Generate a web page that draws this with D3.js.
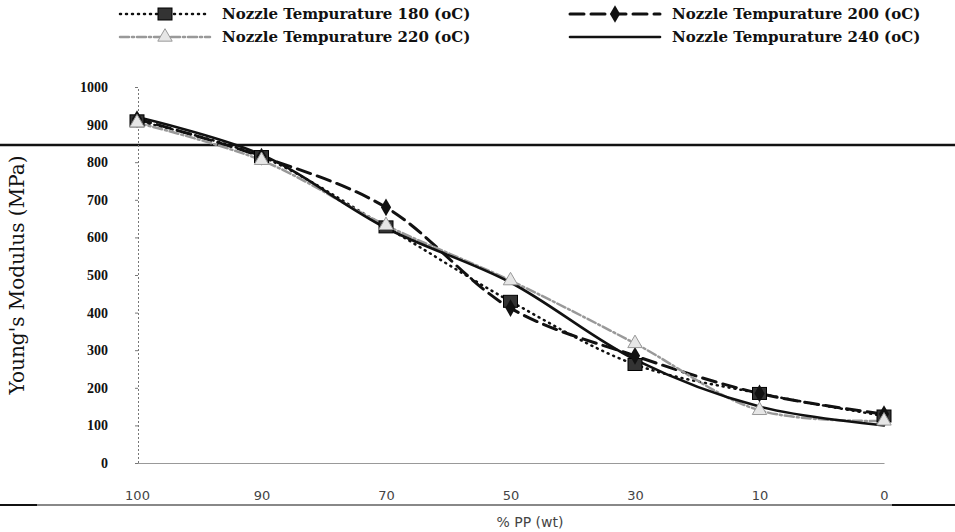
<!DOCTYPE html>
<html>
<head>
<meta charset="utf-8">
<script src="https://cdn.jsdelivr.net/npm/d3@7"></script>
<style>
  body { margin: 0; background: #fff; }
</style>
</head>
<body>
<div id="my_dataviz"></div>
<script>
var categories = ["100", "90", "70", "50", "30", "10", "0"];
var yTicks = [0, 100, 200, 300, 400, 500, 600, 700, 800, 900, 1000];

var seriesNames = ["Nozzle Tempurature 180 (oC)", "Nozzle Tempurature 200 (oC)",
                   "Nozzle Tempurature 220 (oC)", "Nozzle Tempurature 240 (oC)"];
var t180 = [910, 815, 628, 430, 262, 185, 125];
var t200 = [915, 815, 680, 412, 285, 185, 130];
var t220 = [905, 805, 632, 485, 318, 140, 112];
var t240 = [920, 820, 625, 480, 275, 150, 100];

var W = 955, H = 532;
var margin = {top: 87, right: 72, bottom: 69, left: 137},
    width = W - margin.left - margin.right,
    height = H - margin.top - margin.bottom;

var svg = d3.select("#my_dataviz")
  .append("svg")
    .attr("width", W)
    .attr("height", H);

// scan artifacts: page rules
svg.append("line")
  .attr("x1", 0).attr("x2", W).attr("y1", 145).attr("y2", 145)
  .style("stroke", "#111").style("stroke-width", 2.5);
svg.append("line")
  .attr("x1", 0).attr("x2", W).attr("y1", 505).attr("y2", 505)
  .style("stroke", "#888").style("stroke-width", 2);
svg.append("line")
  .attr("x1", 0).attr("x2", 37).attr("y1", 505).attr("y2", 505)
  .style("stroke", "#111").style("stroke-width", 2);
svg.append("line")
  .attr("x1", 892).attr("x2", W).attr("y1", 505).attr("y2", 505)
  .style("stroke", "#111").style("stroke-width", 2);

var g = svg.append("g")
  .attr("transform", "translate(" + margin.left + "," + margin.top + ")");

var x = d3.scalePoint()
  .domain(categories)
  .range([0, width + 1]);

var y = d3.scaleLinear()
  .domain([0, 1000])
  .range([height, 0]);

// x axis
var xAxis = g.append("g")
  .attr("transform", "translate(0," + height + ")")
  .call(d3.axisBottom(x).tickSize(0).tickPadding(28));
xAxis.select(".domain").style("stroke", "#999").style("stroke-width", 1.2);
xAxis.selectAll("text")
  .style("font-family", "DejaVu Sans")
  .style("font-size", "13px")
  .style("fill", "#444");

// y axis
var yAxis = g.append("g")
  .attr("transform", "translate(1,0)")
  .call(d3.axisLeft(y).tickValues(yTicks).tickFormat(d3.format("d")).tickSize(3).tickPadding(27));
yAxis.select(".domain").style("stroke", "#777").style("stroke-dasharray", "2,2");
yAxis.selectAll(".tick line").style("stroke", "#777");
yAxis.selectAll("text")
  .style("font-family", "Liberation Serif")
  .style("font-weight", "bold")
  .style("font-size", "14px")
  .style("fill", "#111");

var styles = [
  {data: t180, color: "#111", width: 2.5, dash: "1,5", marker: "square"},
  {data: t200, color: "#111", width: 3, dash: "14,7", marker: "diamond"},
  {data: t220, color: "#999", width: 2.5, dash: "9,3,2,3", marker: "triangle"},
  {data: t240, color: "#111", width: 2.6, dash: null, marker: null}
];

var line = d3.line()
  .x(function(d, i) { return x(categories[i]); })
  .y(function(d) { return y(d); })
  .curve(d3.curveCatmullRom.alpha(0.5));

function drawMarker(sel, type, cx, cy) {
  if (type === "square") {
    sel.append("rect")
      .attr("x", cx - 7).attr("y", cy - 6).attr("width", 14).attr("height", 12)
      .style("fill", "#333").style("stroke", "#000").style("stroke-width", 1);
  } else if (type === "diamond") {
    sel.append("path")
      .attr("transform", "translate(" + cx + "," + cy + ")")
      .attr("d", d3.symbol().type(d3.symbolDiamond).size(90))
      .style("fill", "#111");
  } else if (type === "triangle") {
    sel.append("path")
      .attr("transform", "translate(" + cx + "," + cy + ")")
      .attr("d", d3.symbol().type(d3.symbolTriangle).size(90))
      .style("fill", "#e6e6e6").style("stroke", "#999").style("stroke-width", 1);
  }
}

styles.forEach(function(s) {
  g.append("path")
    .datum(s.data)
    .attr("d", line)
    .style("fill", "none")
    .style("stroke", s.color)
    .style("stroke-width", s.width)
    .style("stroke-linecap", "round")
    .style("stroke-dasharray", s.dash);
});

styles.forEach(function(s) {
  s.data.forEach(function(d, i) {
    drawMarker(g, s.marker, x(categories[i]), y(d));
  });
});

// legend
var legendPos = [[120, 14], [570, 14], [120, 37], [570, 37]];
styles.forEach(function(s, i) {
  var lx = legendPos[i][0], ly = legendPos[i][1];
  svg.append("line")
    .attr("x1", lx).attr("x2", lx + 90).attr("y1", ly).attr("y2", ly)
    .style("stroke", s.color)
    .style("stroke-width", s.width)
    .style("stroke-linecap", "round")
    .style("stroke-dasharray", s.dash);
  drawMarker(svg, s.marker, lx + 45, ly);
  svg.append("text")
    .attr("x", lx + 102)
    .attr("y", ly + 5)
    .style("font-family", "DejaVu Serif")
    .style("font-weight", "bold")
    .style("font-size", "15px")
    .style("fill", "#111")
    .text(seriesNames[i]);
});

// axis titles
svg.append("text")
  .attr("transform", "rotate(-90)")
  .attr("x", -275)
  .attr("y", 24)
  .style("text-anchor", "middle")
  .style("font-family", "DejaVu Serif")
  .style("font-size", "20px")
  .style("fill", "#111")
  .text("Young's Modulus (MPa)");

svg.append("text")
  .attr("x", 530)
  .attr("y", 527)
  .style("text-anchor", "middle")
  .style("font-family", "DejaVu Sans")
  .style("font-size", "14px")
  .style("fill", "#444")
  .text("% PP (wt)");
</script>
</body>
</html>
